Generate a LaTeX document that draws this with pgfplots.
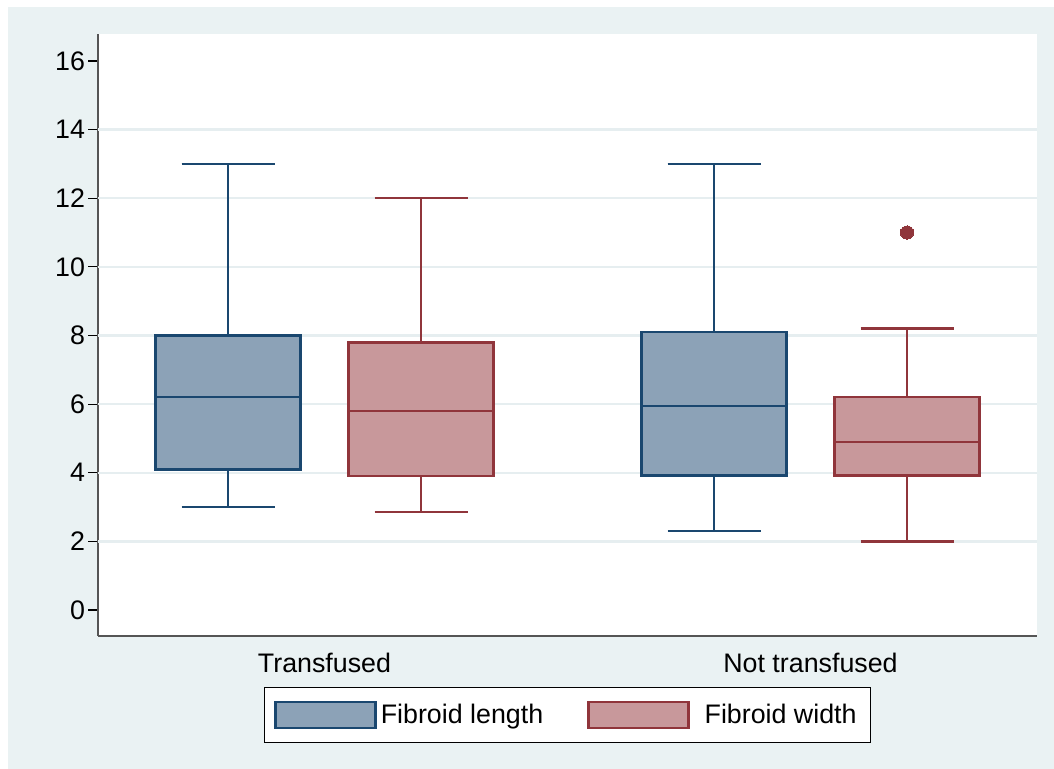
\documentclass[border=0pt]{standalone}
\usepackage{fontspec}
\setmainfont{Liberation Sans}
\usepackage{pgfplots}
\pgfplotsset{compat=1.18}
\usepgfplotslibrary{statistics}
\definecolor{bgc}{HTML}{EAF2F3}
\definecolor{gridc}{HTML}{E6EEF0}
\definecolor{lenEdge}{HTML}{1A476F}
\definecolor{lenFill}{HTML}{8CA2B7}
\definecolor{widEdge}{HTML}{90353B}
\definecolor{widFill}{HTML}{C8989B}
\definecolor{axc}{HTML}{555555}
\pgfplotsset{
  boxplot/draw/median/.code={%
    \draw[/pgfplots/boxplot/every median/.try, /tikz/line width=1.2pt]
      (boxplot box cs:\pgfplotsboxplotvalue{median},0) --
      (boxplot box cs:\pgfplotsboxplotvalue{median},1);
  },
  boxplot/draw/lower whisker/.code={%
    \draw[/pgfplots/boxplot/every whisker/.try, /tikz/line width=1.2pt]
      (boxplot box cs:\pgfplotsboxplotvalue{lower quartile},0.5) --
      (boxplot box cs:\pgfplotsboxplotvalue{lower whisker},0.5)
      (boxplot whisker cs:\pgfplotsboxplotvalue{lower whisker},0) --
      (boxplot whisker cs:\pgfplotsboxplotvalue{lower whisker},1);
  },
  boxplot/draw/upper whisker/.code={%
    \draw[/pgfplots/boxplot/every whisker/.try, /tikz/line width=1.2pt]
      (boxplot box cs:\pgfplotsboxplotvalue{upper quartile},0.5) --
      (boxplot box cs:\pgfplotsboxplotvalue{upper whisker},0.5)
      (boxplot whisker cs:\pgfplotsboxplotvalue{upper whisker},0) --
      (boxplot whisker cs:\pgfplotsboxplotvalue{upper whisker},1);
  },
}
\begin{document}
\begin{tikzpicture}
\fill[white] (0pt,0pt) rectangle (527pt,384.5pt);
\fill[bgc] (4pt,0pt) rectangle (527pt,381pt);
\fill[white] (49pt,66.5pt) rectangle (518.5pt,367.5pt);
\begin{axis}[
  at={(49pt,66.5pt)}, anchor=south west,
  width=469.5pt, height=301pt, scale only axis,
  xmin=0, xmax=939, ymin=-0.758, ymax=16.787,
  boxplot/draw direction=y,
  axis x line*=bottom, axis y line*=left,
  axis line style={draw=axc, line width=0.8pt},
  ytick={0,2,...,16},
  xtick={226.5,712.5},
  xticklabels={Transfused, Not transfused},
  x tick style={draw=none},
  y tick style={draw=black, line width=0.6pt},
  yticklabel style={xshift=2pt},
  tick align=outside, major tick length=5pt,
  extra y ticks={2,4,...,14},
  extra y tick labels={},
  extra y tick style={ymajorgrids=true, major tick length=0pt},
  grid style={draw=gridc, line width=1.2pt},
  /pgf/number format/assume math mode=true,
  ticklabel style={font=\fontsize{13.4}{16}\selectfont},
  legend style={at={(0.5,0)}, anchor=north, yshift=-25.5pt,
    draw=black, line width=0.5pt, fill=white,
    font=\fontsize{13.4}{16}\selectfont,
    inner xsep=5pt, inner ysep=6.1pt},
  legend columns=2,
  legend cell align=left,
  /tikz/every even column/.append style={column sep=20pt},
]
\addplot+[boxplot prepared={lower whisker=3, lower quartile=4.1, median=6.2,
    upper quartile=8, upper whisker=13, draw position=130,
    box extend=145, whisker extend=93},
  draw=lenEdge, fill=lenFill, line width=1.2pt, solid, mark=none,
  legend image code/.code={\draw[draw=lenEdge,fill=lenFill,line width=1.2pt] (0pt,-6.5pt) rectangle (50pt,6.5pt);}]
  coordinates {};
\addlegendentry{Fibroid length}
\addplot+[boxplot prepared={lower whisker=2.85, lower quartile=3.9, median=5.8,
    upper quartile=7.8, upper whisker=12, draw position=323,
    box extend=145, whisker extend=93},
  draw=widEdge, fill=widFill, line width=1.2pt, solid, mark=none,
  legend image code/.code={\draw[draw=widEdge,fill=widFill,line width=1.2pt] (0pt,-6.5pt) rectangle (50pt,6.5pt);}]
  coordinates {};
\addlegendentry{\hspace{5.5pt}Fibroid width}
\addplot+[boxplot prepared={lower whisker=2.3, lower quartile=3.92, median=5.95,
    upper quartile=8.1, upper whisker=13, draw position=616,
    box extend=145, whisker extend=93},
  draw=lenEdge, fill=lenFill, line width=1.2pt, solid, mark=none, forget plot]
  coordinates {};
\addplot+[boxplot prepared={lower whisker=2.0, lower quartile=3.92, median=4.9,
    upper quartile=6.2, upper whisker=8.2, draw position=809,
    box extend=145, whisker extend=93},
  draw=widEdge, fill=widFill, line width=1.2pt, solid, forget plot,
  mark=*, mark size=3.3pt, mark options={draw=widEdge, fill=widEdge, line width=0pt}]
  table[row sep=\\, y index=0] {data\\ 11\\};
\end{axis}
\end{tikzpicture}
\end{document}
